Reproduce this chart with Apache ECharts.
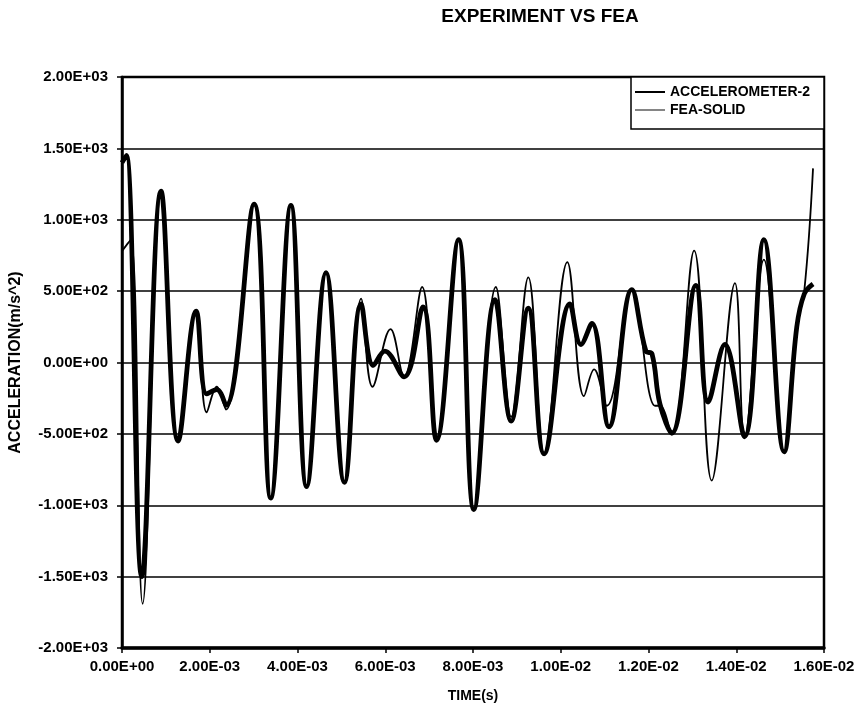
<!DOCTYPE html>
<html>
<head>
<meta charset="utf-8">
<title>EXPERIMENT VS FEA</title>
<script src="https://cdn.jsdelivr.net/npm/echarts@6/dist/echarts.min.js"></script>
<style>
  html, body { margin: 0; padding: 0; background: #fff; }
  #chart { width: 858px; height: 710px; }
</style>
</head>
<body>
<div id="chart"></div>
<script>
// Measured acceleration (times in ms)
const timeAccel = [0, 0.10, 0.45, 0.89, 1.28, 1.69, 1.93, 2.16, 2.37, 3.01, 3.39, 3.85, 4.21, 4.65, 5.07, 5.45, 5.73, 5.99, 6.43, 6.86, 7.17, 7.67, 8.02, 8.50, 8.87, 9.26, 9.62, 10.21, 10.46, 10.71, 11.10, 11.62, 11.94, 12.08, 12.26, 12.53, 13.08, 13.36, 13.74, 14.19, 14.63, 15.09, 15.38, 15.55, 15.75];
const accel = [1400, 1450, -1500, 1200, -550, 360, -220, -190, -300, 1110, -950, 1100, -870, 630, -840, 410, -20, 80, -100, 390, -545, 860, -1030, 440, -410, 380, -640, 410, 126, 274, -450, 510, 80, 60, -290, -495, 540, -277, 126, -518, 860, -626, 250, 480, 550];

// FEA solid-model prediction (times in ms)
const timeFea = [0, 0.20, 0.47, 0.89, 1.28, 1.69, 1.93, 2.16, 2.37, 3.01, 3.39, 3.85, 4.21, 4.65, 5.07, 5.45, 5.71, 6.12, 6.43, 6.84, 7.17, 7.67, 8.02, 8.52, 8.87, 9.26, 9.62, 10.15, 10.53, 10.76, 11.05, 11.62, 12.15, 12.26, 12.53, 13.04, 13.44, 13.97, 14.19, 14.63, 15.09, 15.38, 15.55, 15.75];
const fea = [780, 860, -1690, 1180, -550, 368, -350, -170, -330, 1110, -950, 1100, -870, 636, -840, 448, -170, 234, -102, 529, -545, 865, -1030, 529, -380, 596, -639, 703, -236, -48, -303, 515, -303, -303, -505, 784, -827, 556, -532, 720, -626, 250, 500, 1360];

const seriesNames = ['ACCELEROMETER-2', 'FEA-SOLID'];
const FONT = '"Liberation Sans", Arial, sans-serif';

// Excel-style scientific label, e.g. 2.00E+03
function sci(v) {
  if (Math.abs(v) < 1e-12) v = 0;
  const s = v.toExponential(2).toUpperCase();
  return s.replace(/E([+-])(\d+)$/, function (m, sign, d) {
    return 'E' + sign + (d.length < 2 ? '0' + d : d);
  });
}

function pairs(ts, vs) {
  return ts.map(function (t, i) { return [t / 1000, vs[i]]; });
}

const chart = echarts.init(document.getElementById('chart'), null, { renderer: 'canvas' });

chart.setOption({
  backgroundColor: '#fff',
  animation: false,
  textStyle: { fontFamily: FONT },
  graphic: [{
    type: 'text',
    x: 540, y: 17,
    style: {
      text: 'EXPERIMENT VS FEA',
      font: 'bold 19px ' + FONT,
      fill: '#000',
      textAlign: 'center',
      textVerticalAlign: 'middle'
    }
  }],
  grid: {
    left: 122, right: 34, top: 77, bottom: 62,
    outerBoundsMode: 'none',
    show: true,
    borderColor: '#000',
    borderWidth: 2.5,
    backgroundColor: '#fff'
  },
  legend: {
    orient: 'vertical',
    left: 631, top: 77,
    padding: [8, 14, 12, 4],
    itemGap: 4,
    itemWidth: 30,
    itemHeight: 14,
    backgroundColor: '#fff',
    borderColor: '#000',
    borderWidth: 1.5,
    textStyle: { fontFamily: FONT, fontWeight: 'bold', fontSize: 14, color: '#000' },
    data: [
      { name: seriesNames[0], icon: 'path://M0,0 L30,0 L30,2 L0,2 Z', itemStyle: { color: '#000' } },
      { name: seriesNames[1], icon: 'path://M0,0 L30,0 L30,1.2 L0,1.2 Z', itemStyle: { color: '#333' } }
    ]
  },
  xAxis: {
    type: 'value',
    min: 0, max: 0.016, interval: 0.002,
    name: 'TIME(s)',
    nameLocation: 'middle',
    nameGap: 41,
    nameTextStyle: { fontFamily: FONT, fontWeight: 'bold', fontSize: 14, color: '#000' },
    axisLine: { show: true, onZero: false, lineStyle: { color: '#000', width: 3.5 } },
    axisTick: { show: true, inside: false, length: 5, lineStyle: { color: '#000', width: 1.5 } },
    axisLabel: {
      margin: 11,
      fontFamily: FONT, fontWeight: 'bold', fontSize: 15, color: '#000',
      formatter: sci
    },
    splitLine: { show: false }
  },
  yAxis: {
    type: 'value',
    min: -2000, max: 2000, interval: 500,
    name: 'ACCELERATION(m/s^2)',
    nameLocation: 'middle',
    nameGap: 98,
    nameRotate: 90,
    nameTextStyle: { fontFamily: FONT, fontWeight: 'bold', fontSize: 16, color: '#000' },
    axisLine: { show: true, onZero: false, lineStyle: { color: '#000', width: 2.5 } },
    axisTick: { show: true, inside: false, length: 5, lineStyle: { color: '#000', width: 1.5 } },
    axisLabel: {
      margin: 14,
      fontFamily: FONT, fontWeight: 'bold', fontSize: 15, color: '#000',
      formatter: sci
    },
    splitLine: { show: true, lineStyle: { color: '#000', width: 1.6 } }
  },
  series: [
    {
      name: seriesNames[0],
      type: 'line',
      data: pairs(timeAccel, accel),
      symbol: 'none',
      smooth: 0.4,
      lineStyle: { color: '#000', width: 4.8 },
      itemStyle: { color: '#000' },
      z: 2
    },
    {
      name: seriesNames[1],
      type: 'line',
      data: pairs(timeFea, fea),
      symbol: 'none',
      smooth: 0.4,
      lineStyle: { color: '#000', width: 1.8 },
      itemStyle: { color: '#333' },
      z: 3
    }
  ]
});
</script>
</body>
</html>
